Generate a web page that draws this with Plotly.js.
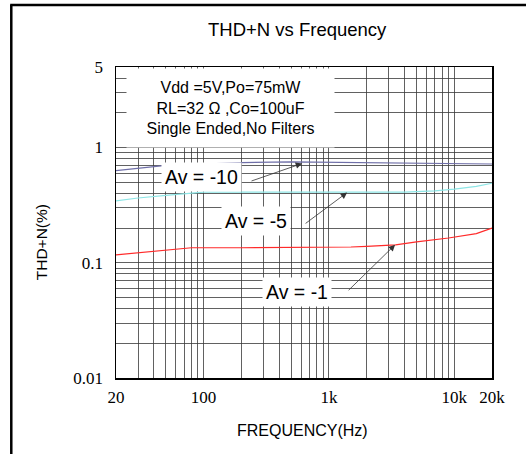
<!DOCTYPE html>
<html>
<head>
<meta charset="utf-8">
<script src="https://cdn.plot.ly/plotly-3.0.1.min.js"></script>
<style>html,body{margin:0;padding:0;background:#fff}#chart{width:526px;height:454px}</style>
</head>
<body>
<div id="chart"></div>
<script>
// ---- data ----
var freqAv10 = [20, 30, 50, 100, 200, 500, 1000, 2000, 5000, 10000, 20000];
var thdAv10  = [0.63, 0.66, 0.70, 0.72, 0.74, 0.75, 0.745, 0.73, 0.725, 0.72, 0.72];

var freqAv5 = [20, 30, 50, 100, 200, 500, 1000, 2000, 4000, 7000, 10000, 15000, 20000];
var thdAv5  = [0.345, 0.365, 0.385, 0.41, 0.41, 0.41, 0.41, 0.41, 0.41, 0.42, 0.435, 0.46, 0.49];

var freqAv1 = [20, 50, 80, 200, 500, 1500, 2000, 3400, 5000, 9000, 15000, 20000];
var thdAv1  = [0.117, 0.128, 0.135, 0.135, 0.135, 0.137, 0.139, 0.143, 0.152, 0.164, 0.179, 0.2];

var xTickVals = [20,30,40,50,60,70,80,90,100,200,300,400,500,600,700,800,900,1000,2000,3000,4000,5000,6000,7000,8000,9000,10000,20000];
var xTickText = ['20','','','','','','','','100','','','','','','','','','1k','','','','','','','','','10k','20k'];
var yTickVals = [0.01,0.02,0.03,0.04,0.05,0.06,0.07,0.08,0.09,0.1,0.2,0.3,0.4,0.5,0.6,0.7,0.8,0.9,1,2,3,4,5];
var yTickText = ['0.01','','','','','','','','','0.1','','','','','','','','','1','','','','5'];

var seriesNames = ['Av = -10', 'Av = -5', 'Av = -1'];
var seriesColors = ['#6f6fa8', '#8ee6e6', '#ff2a2a'];
var infoLines = ['Vdd =5V,Po=75mW', 'RL=32 \u03A9 ,Co=100uF', 'Single Ended,No Filters'];

// arrow heads (freq, thd) and label positions (freq, thd)
var arrowHeads = [[610, 0.727], [1396, 0.407], [3373, 0.1435]];
var arrowTails = [[-52, 18], [-43, 32], [-48, 47]];
var labelPos = [[97, 0.56], [262, 0.232], [557, 0.056]];

var traces = [
  {x: freqAv10, y: thdAv10, name: seriesNames[0], mode: 'lines', line: {color: seriesColors[0], width: 1.2}},
  {x: freqAv5,  y: thdAv5,  name: seriesNames[1], mode: 'lines', line: {color: seriesColors[1], width: 1.2}},
  {x: freqAv1,  y: thdAv1,  name: seriesNames[2], mode: 'lines', line: {color: seriesColors[2], width: 1.2}}
];

var annotations = [];
// info box
annotations.push({
  xref: 'paper', yref: 'paper', x: 0.3045, y: 0.868, xanchor: 'center', yanchor: 'middle',
  text: infoLines.join('<br>'), showarrow: false, bgcolor: '#ffffff',
  width: 205, height: 76, align: 'center',
  font: {family: 'Liberation Sans, Arial, sans-serif', size: 16, color: '#000'}
});
for (var i = 0; i < 3; i++) {
  annotations.push({
    xref: 'x', yref: 'y', x: Math.log10(arrowHeads[i][0]), y: Math.log10(arrowHeads[i][1]),
    ax: arrowTails[i][0], ay: arrowTails[i][1], text: '', showarrow: true,
    arrowhead: 2, arrowsize: 1.6, arrowwidth: 0.8, arrowcolor: '#333'
  });
  annotations.push({
    xref: 'x', yref: 'y', x: Math.log10(labelPos[i][0]), y: Math.log10(labelPos[i][1]),
    xanchor: 'center', yanchor: 'middle',
    text: seriesNames[i], showarrow: false, bgcolor: '#ffffff', borderpad: 3,
    font: {family: 'Liberation Sans, Arial, sans-serif', size: 19.5, color: '#000'}
  });
}
// axis titles
annotations.push({
  xref: 'paper', yref: 'paper', x: -0.199, y: 0.437, xanchor: 'center', yanchor: 'middle',
  text: 'THD+N(%)', textangle: -90,
  showarrow: false, font: {family: 'Liberation Sans, Arial, sans-serif', size: 15.5, color: '#000'}
});
annotations.push({
  xref: 'paper', yref: 'paper', x: 0.495, y: -0.17, xanchor: 'center', yanchor: 'middle',
  text: 'FREQUENCY(Hz)',
  showarrow: false, font: {family: 'Liberation Sans, Arial, sans-serif', size: 16, color: '#000'}
});

var layout = {
  width: 526, height: 454,
  margin: {l: 116, r: 34, t: 67, b: 76},
  paper_bgcolor: '#ffffff', plot_bgcolor: '#ffffff',
  showlegend: false,
  title: {text: 'THD+N vs Frequency', x: 0.565, xanchor: 'center', y: 0.934, yanchor: 'middle',
          font: {family: 'Liberation Sans, Arial, sans-serif', size: 18.5, color: '#000'}},
  xaxis: {
    type: 'log', range: [Math.log10(20), Math.log10(20000)],
    tickmode: 'array', tickvals: xTickVals, ticktext: xTickText,
    ticks: '', ticklabelstandoff: 3,
    showgrid: true, gridcolor: '#3a3a3a', gridwidth: 0.8,
    showline: true, linecolor: '#000', linewidth: 1.5, mirror: true,
    zeroline: false,
    tickfont: {family: 'Liberation Serif, Times New Roman, serif', size: 17, color: '#000'}
  },
  yaxis: {
    type: 'log', range: [Math.log10(0.01), Math.log10(5)],
    tickmode: 'array', tickvals: yTickVals, ticktext: yTickText,
    ticks: '', ticklabelstandoff: 8,
    showgrid: true, gridcolor: '#3a3a3a', gridwidth: 0.8,
    showline: true, linecolor: '#000', linewidth: 1.5, mirror: true,
    zeroline: false,
    tickfont: {family: 'Liberation Serif, Times New Roman, serif', size: 17, color: '#000'}
  },
  annotations: annotations,
  shapes: [
    {type: 'line', xref: 'paper', yref: 'paper', x0: -0.2785, x1: -0.2785, y0: 1.199, y1: -0.3, line: {color: '#000', width: 2.5}},
    {type: 'line', xref: 'paper', yref: 'paper', x0: -0.2815, x1: 1.2, y0: 1.199, y1: 1.199, line: {color: '#000', width: 2.5}}
  ]
};

Plotly.newPlot('chart', traces, layout, {displayModeBar: false, staticPlot: true});
</script>
</body>
</html>
